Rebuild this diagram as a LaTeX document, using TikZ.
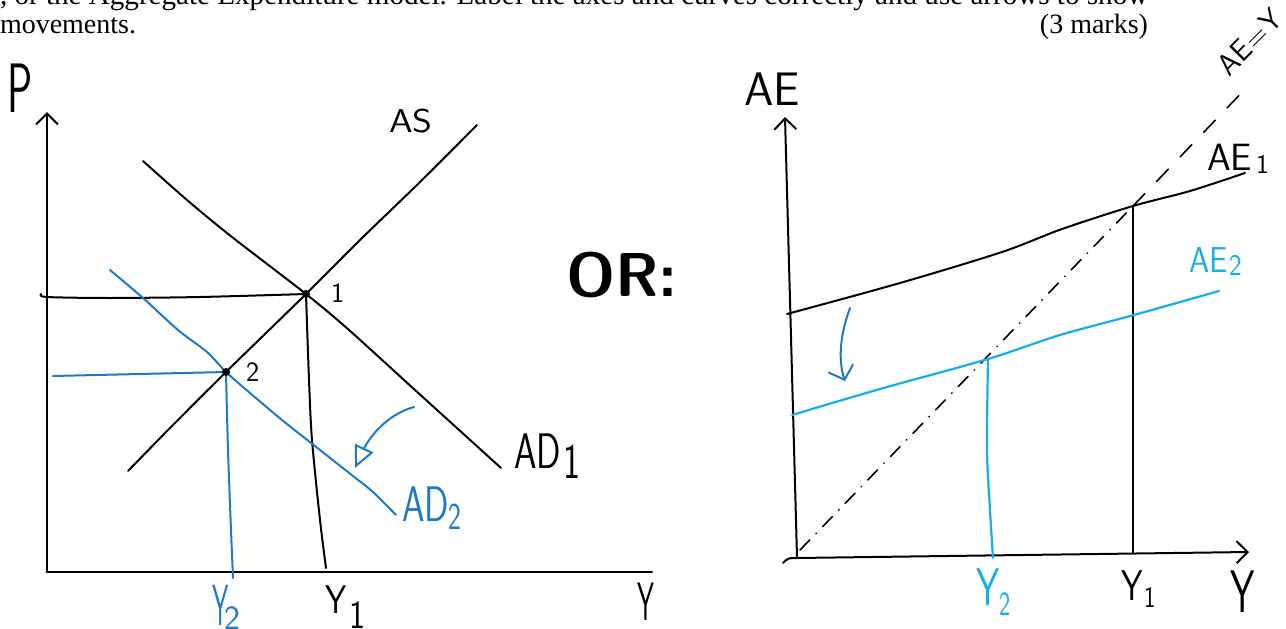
\documentclass[tikz,border=0pt]{standalone}
\usepackage{fontspec}
\setmainfont{Liberation Serif}
\usetikzlibrary{arrows.meta}
\definecolor{bluea}{HTML}{1F78C8}
\definecolor{blueb}{HTML}{19AEEA}
\begin{document}
\begin{tikzpicture}[x=1pt,y=-1pt,line cap=round,line join=round,
  ink/.style={line width=2pt,black},
  blueA/.style={line width=2pt,bluea},
  blueB/.style={line width=2.2pt,blueb},
  lab/.style={inner sep=0pt,outer sep=0pt,anchor=base west,transform shape},
  hdr/.style={inner sep=0pt,outer sep=0pt,font=\fontsize{28}{30}\selectfont},
  barb/.style={-{Straight Barb[length=11pt,width=22pt]}}]
\useasboundingbox (0,0) rectangle (1286,629);
% header text
\node[hdr,anchor=base west,font=\fontsize{29.1}{30}\selectfont] (hdr1) at (0,5) {, or the Aggregate Expenditure model. Label the axes and curves correctly and use arrows to show};
\node[hdr,anchor=base west] (hdr2) at (0,33) {movements.};
\node[hdr,anchor=base east] (hdr3) at (1148,33) {(3 marks)};
% ---------------- left graph ----------------
\coordinate (L0) at (47,572);
\coordinate (Ltop) at (47,112);
\coordinate (Lx) at (652,572);
\coordinate (E1) at (306,294);
\coordinate (E2) at (226,372);
\draw[ink,barb] (L0) -- (Ltop);
\draw[ink] (L0) -- (Lx);
% AS
\draw[ink] plot[smooth] coordinates {(128,471) (170,428) (E2) (266,333) (E1) (360,240) (420,182) (477,125)};
% AD1
\draw[ink] plot[smooth] coordinates {(143,161) (187,200) (232,237) (E1) (349,330) (415,390) (501,468)};
% P1 and Y1 guide lines
\draw[ink] plot[smooth] coordinates {(41,294) (47,297) (110,298) (200,297) (E1)};
\draw[ink] plot[smooth] coordinates {(E1) (309,380) (312,440) (320,520) (326,568)};
% AD2
\draw[blueA] plot[smooth] coordinates {(110,270) (143,298) (178,330) (207,352) (E2) (250,393) (282,420) (320,450) (353,476) (373,492) (396,515)};
% P2 and Y2 guide lines
\coordinate (P2s) at (53,376);
\draw[blueA] (P2s) -- (E2);
\draw[blueA] plot[smooth] coordinates {(E2) (228,450) (231,530) (233,578)};
% equilibrium dots
\fill (E1) circle[radius=4pt];
\fill (E2) circle[radius=4pt];
% shift arrow
\coordinate (A1s) at (414,407);
\coordinate (A1e) at (355,468);
\draw[blueA,-{Triangle[open,length=22pt,width=20pt,line width=2pt]}] (A1s) .. controls (385,415) and (368,440) .. (A1e);
% left labels
\node[lab,font=\sffamily\fontsize{70}{70}\selectfont,xscale=0.6] (labP) at (8,112) {P};
\node[lab,font=\sffamily\fontsize{33}{33}\selectfont,xscale=1.15] (labAS) at (389,132) {AS};
\node[lab,font=\sffamily\fontsize{28}{28}\selectfont] (lab1) at (331,302) {1};
\node[lab,font=\sffamily\fontsize{28}{28}\selectfont] (lab2) at (246,381) {2};
\node[lab,font=\sffamily\fontsize{50}{50}\selectfont,xscale=0.72] (labAD1) at (514,468) {AD\hspace{4pt}\raisebox{-10pt}{1}};
\node[lab,font=\sffamily\fontsize{50}{50}\selectfont,xscale=0.72,text=bluea] (labAD2) at (402,521) {AD\raisebox{-8pt}{\fontsize{38}{38}\selectfont 2}};
\node[lab,font=\sffamily\fontsize{58}{58}\selectfont,text=bluea] (labY2L) at (212,625) {\scalebox{0.45}[1]{Y}\kern-4pt\raisebox{-4pt}{\fontsize{34}{34}\selectfont 2}};
\node[lab,font=\sffamily\fontsize{40}{40}\selectfont,xscale=0.85] (labY1L) at (325,613) {Y\hspace{4pt}\raisebox{-15pt}{1}};
\node[lab,font=\sffamily\fontsize{54}{54}\selectfont,xscale=0.5] (labYL) at (637,620) {Y};
% OR
\node[lab,font=\sffamily\bfseries\fontsize{62}{62}\selectfont] (labOR) at (566,296) {OR:};
% ---------------- right graph ----------------
\coordinate (R0) at (797,557);
\coordinate (Rtop) at (785,117);
\coordinate (Rx0) at (783,563);
\coordinate (Rx) at (1249,552);
\draw[ink,barb] (R0) -- (Rtop);
\draw[ink,barb] (Rx0) .. controls (788,558) .. (797,558) -- (Rx);
% 45 degree line
\coordinate (O) at (800,550);
\coordinate (K1) at (1133,206);
\coordinate (Ktop) at (1250,84);
\draw[black,line width=1.6pt,dash pattern=on 14pt off 9pt on 0.5pt off 9pt] (O) -- (K1);
\draw[black,line width=1.6pt,dash pattern=on 17pt off 17pt] (K1) -- (Ktop);
% AE1
\draw[ink] plot[smooth] coordinates {(787,314) (900,283) (1002,252) (1062,229) (K1) (1190,191) (1245,173)};
\coordinate (Y1b) at (1133,553);
\draw[ink] (K1) -- (Y1b);
% AE2
\coordinate (K2) at (988,359);
\draw[blueB] plot[smooth] coordinates {(792,415) (880,389) (K2) (1060,335) (1134,315) (1219,291)};
\draw[blueB] plot[smooth] coordinates {(K2) (987,450) (990,510) (993,558)};
% shift arrow
\coordinate (A2s) at (850,308);
\coordinate (A2e) at (845,381);
\draw[blueA,-{Straight Barb[length=12pt,width=26pt]}] (A2s) .. controls (840,335) and (838,360) .. (A2e);
% right labels
\node[lab,font=\sffamily\fontsize{47}{47}\selectfont] (labAE) at (744,105) {AE};
\node[lab,font=\sffamily\fontsize{38}{38}\selectfont] (labAE1) at (1207,170) {AE\hspace{4pt}\raisebox{-3pt}{\fontsize{27}{27}\selectfont 1}};
\node[lab,font=\sffamily\fontsize{36}{36}\selectfont,xscale=0.9,text=blueb] (labAE2) at (1189,272) {AE\hspace{2pt}\raisebox{-3pt}{\fontsize{30}{30}\selectfont 2}};
\node[lab,font=\sffamily\fontsize{53}{53}\selectfont,xscale=0.7,text=blueb] (labY2R) at (976,605) {Y\raisebox{-10pt}{\fontsize{34}{34}\selectfont 2}};
\node[lab,font=\sffamily\fontsize{43}{43}\selectfont,xscale=0.8] (labY1R) at (1121,600) {Y\hspace{2pt}\raisebox{-7pt}{\fontsize{30}{30}\selectfont 1}};
\node[lab,font=\sffamily\fontsize{60}{60}\selectfont,xscale=0.65] (labYR) at (1230,612) {Y};
\node[inner sep=0pt,font=\sffamily\fontsize{30}{30}\selectfont,rotate=45] (labAEY) at (1250,42) {AE\kern1pt=\kern1pt Y};
\end{tikzpicture}
\end{document}
